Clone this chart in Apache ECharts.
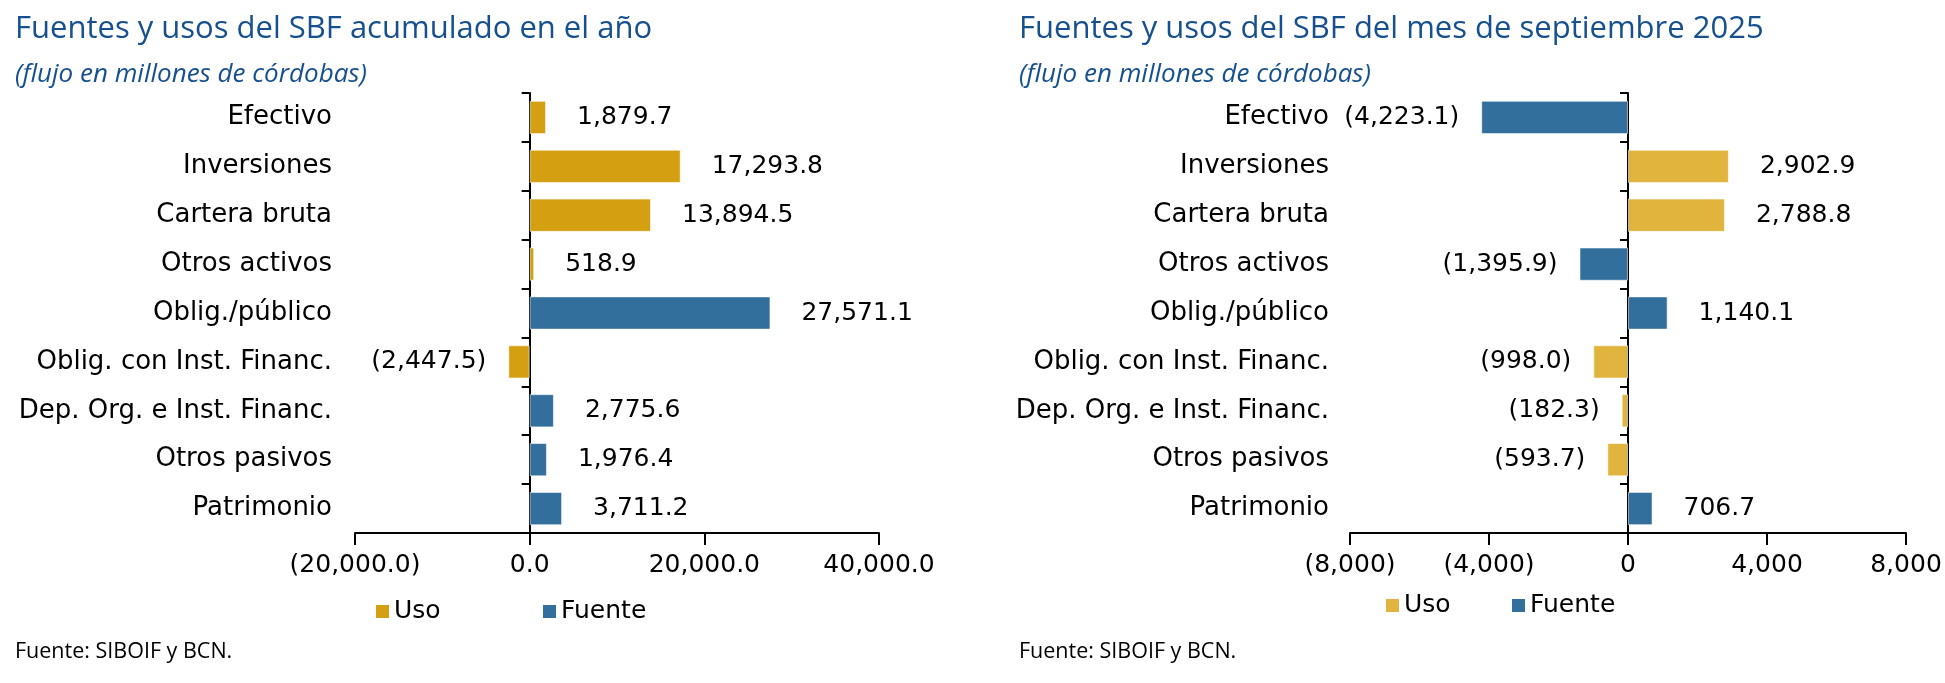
<!DOCTYPE html>
<html><head><meta charset="utf-8">
<script src="https://cdn.jsdelivr.net/npm/echarts@6/dist/echarts.min.js"></script>
<style>html,body{margin:0;padding:0;background:#fff}#c{width:1945px;height:683px}</style>
</head><body><div id="c"></div>
<script>
var categories = ["Efectivo","Inversiones","Cartera bruta","Otros activos","Oblig./público","Oblig. con Inst. Financ.","Dep. Org. e Inst. Financ.","Otros pasivos","Patrimonio"];
// Left: acumulado en el año
var leftUso    = [1879.7, 17293.8, 13894.5, 518.9, null, -2447.5, null, null, null];
var leftFuente = [null, null, null, null, 27571.1, null, 2775.6, 1976.4, 3711.2];
// Right: mes de septiembre 2025
var rightUso    = [null, 2902.9, 2788.8, null, null, -998.0, -182.3, -593.7, null];
var rightFuente = [-4223.1, null, null, -1395.9, 1140.1, null, null, null, 706.7];
var leftTicks  = {min:-20000, max:40000, interval:20000, decimals:1};
var rightTicks = {min:-8000, max:8000, interval:4000, decimals:0};

var LBL = 'DejaVu Sans', TTL = 'Open Sans';
var FS = 25, CFS = 26;
var BLUE = '#336f9c', GOLD_L = '#d4a012', GOLD_R = '#e0b43d', TITLE_C = '#16508e';

function fmt(v, d){
  var s = Math.abs(v).toLocaleString('en-US',{minimumFractionDigits:d, maximumFractionDigits:d});
  return v < 0 ? '(' + s + ')' : s;
}
function mkData(arr){
  return arr.map(function(v){
    if (v === null) return '-';
    return {value: v, label: {position: v < 0 ? 'left' : 'right', distance: v < 0 ? 22 : 31}};
  });
}
function series(name, arr, color, idx){
  return {
    type:'bar', name:name, xAxisIndex:idx, yAxisIndex:idx,
    data: mkData(arr), barGap:'-100%', barCategoryGap:'32%',
    itemStyle:{color:color, borderColor:'rgba(255,255,255,0.55)', borderWidth:1},
    label:{show:true, color:'#000', fontFamily:LBL, fontSize:FS,
      formatter:function(p){ return fmt(p.value, 1); }},
    emphasis:{disabled:true}
  };
}
function xAx(idx, t){
  return {type:'value', gridIndex:idx, min:t.min, max:t.max, interval:t.interval,
    splitLine:{show:false},
    axisLine:{show:true, onZero:false, lineStyle:{color:'#000', width:2}},
    axisTick:{show:true, length:12, lineStyle:{color:'#000', width:2}},
    axisLabel:{color:'#000', fontFamily:LBL, fontSize:FS, margin:20,
      formatter:function(v){ return fmt(v, t.decimals); }}};
}
function yAx(idx, margin){
  return {type:'category', gridIndex:idx, data:categories, inverse:true,
    axisLine:{show:true, onZero:true, lineStyle:{color:'#000', width:2}},
    axisTick:{show:true, length:8, lineStyle:{color:'#000', width:2}},
    axisLabel:{color:'#000', fontFamily:LBL, fontSize:CFS, margin:margin}};
}
function txt(x, y, text, font, color){
  return {type:'text', x:x, y:y, style:{text:text, font:font, fill:color, textVerticalAlign:'middle', textAlign:'left'}};
}
function legend(left, top, name, color){
  return {left:left, top:top, data:[{name:name, itemStyle:{color:color, borderWidth:0}}],
    icon:'rect', itemWidth:13, itemHeight:13, itemGap:6, selectedMode:false, padding:0,
    textStyle:{color:'#000', fontFamily:LBL, fontSize:FS}};
}

var chart = echarts.init(document.getElementById('c'));
chart.setOption({
  animation:false,
  grid:[{left:355, width:524, top:93, height:440, containLabel:false, outerBoundsMode:'none'},
        {left:1350, width:556, top:93, height:440, containLabel:false, outerBoundsMode:'none'}],
  xAxis:[xAx(0,leftTicks), xAx(1,rightTicks)],
  yAxis:[yAx(0,23), yAx(1,21)],
  series:[series('Uso', leftUso, GOLD_L, 0), series('Fuente', leftFuente, BLUE, 0),
          series('Uso', rightUso, GOLD_R, 1), series('Fuente', rightFuente, BLUE, 1)],
  legend:[legend(376, 599, 'Uso', GOLD_L), legend(543, 599, 'Fuente', BLUE),
          legend(1386, 593, 'Uso', GOLD_R), legend(1512, 593, 'Fuente', BLUE)],
  graphic:[
    txt(15, 29, 'Fuentes y usos del SBF acumulado en el año', '31px "'+TTL+'"', TITLE_C),
    txt(15, 75, '(flujo en millones de córdobas)', 'italic 26px "'+TTL+'"', TITLE_C),
    txt(15, 652, 'Fuente: SIBOIF y BCN.', '21.5px "'+TTL+'"', '#000'),
    txt(1019, 29, 'Fuentes y usos del SBF del mes de septiembre 2025', '31px "'+TTL+'"', TITLE_C),
    txt(1019, 75, '(flujo en millones de córdobas)', 'italic 26px "'+TTL+'"', TITLE_C),
    txt(1019, 652, 'Fuente: SIBOIF y BCN.', '21.5px "'+TTL+'"', '#000')
  ]
});
</script></body></html>
